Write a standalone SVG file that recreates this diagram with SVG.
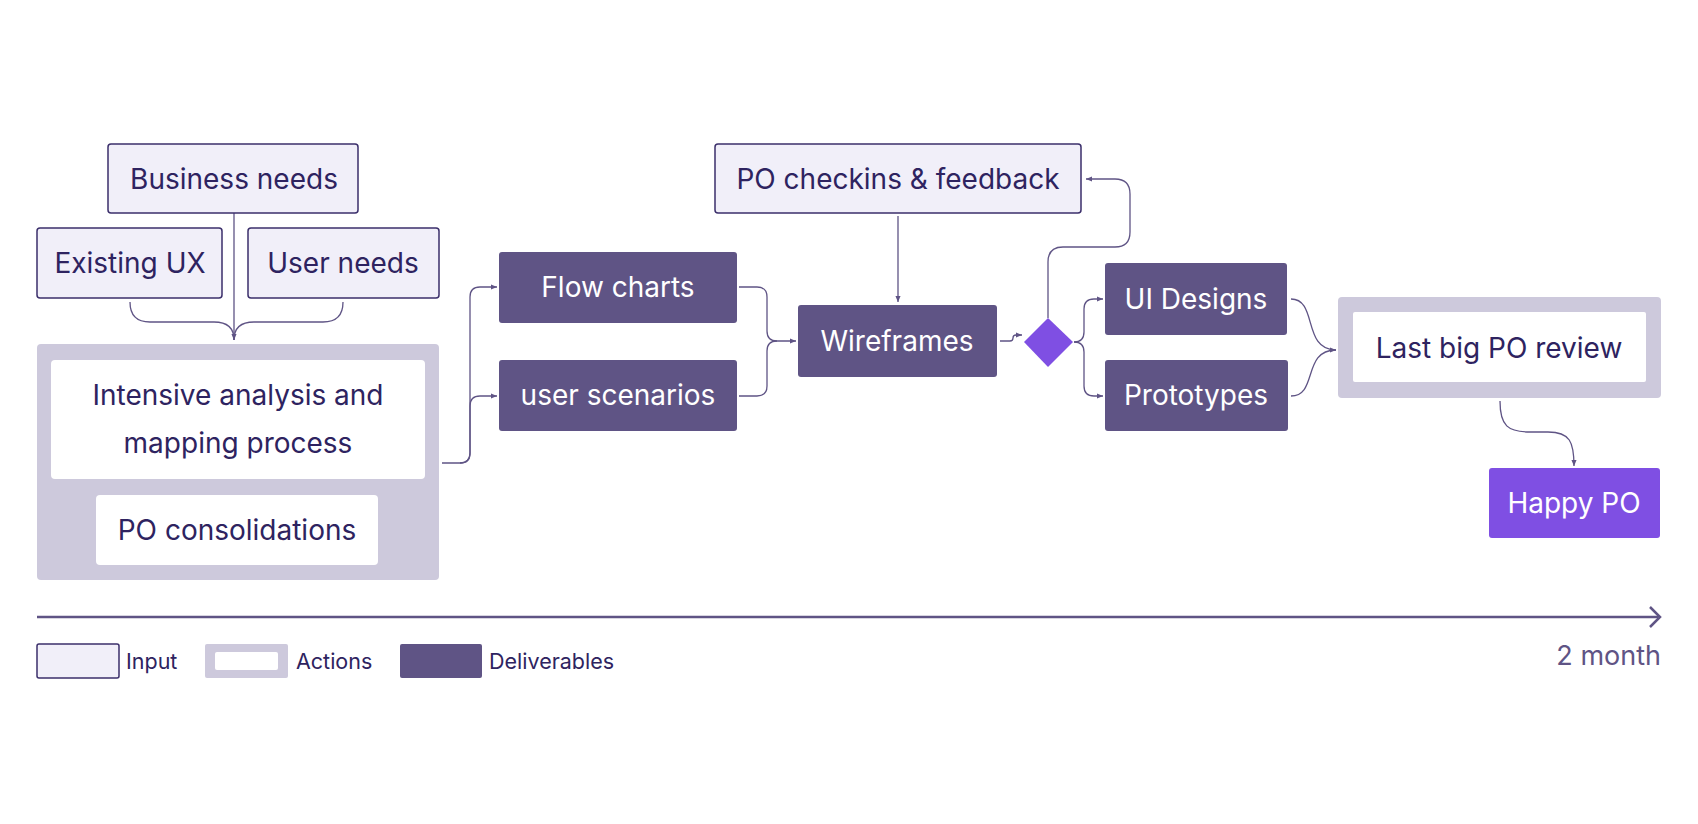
<svg xmlns="http://www.w3.org/2000/svg" width="1698" height="824" viewBox="0 0 1698 824">
<defs>
<style>
text{font-family:Inter,"Noto Sans",sans-serif;font-size:28px;text-anchor:middle;dominant-baseline:central}
.in{fill:#f1eff9;stroke:#3b2f6b;stroke-width:1.5}
.grp{fill:#cdc9dc}
.wh{fill:#fff}
.dl{fill:#5f5485}
.hp{fill:#7f4fe3}
.dk{fill:#2e2360}
.lt{fill:#fff}
.c{fill:none;stroke:#5f5485;stroke-width:1.3}
.leg{font-size:21.5px;text-anchor:start}
</style>
<marker id="a" viewBox="0 0 8 8" refX="7" refY="4" markerWidth="7" markerHeight="7" orient="auto" markerUnits="userSpaceOnUse"><path d="M0,1 L7,4 L0,7 z" fill="#5f5485"/></marker>
</defs>
<rect width="1698" height="824" fill="#fff"/>
<g id="connectors">
<path class="c" d="M234 213 L234 340" marker-end="url(#a)"/>
<path class="c" d="M130 302 Q130 322 150 322 L214 322 Q234 322 234 340"/>
<path class="c" d="M343 302 Q343 322 323 322 L254 322 Q234 322 234 340"/>
<path class="c" d="M442 463 L460 463 Q470 463 470 453 L470 297 Q470 287 480 287 L497 287" marker-end="url(#a)"/>
<path class="c" d="M460 463 Q470 463 470 453 L470 406 Q470 396 480 396 L497 396" marker-end="url(#a)"/>
<path class="c" d="M739 287 L757 287 Q767 287 767 297 L767 331 Q767 341 777 341 L796 341" marker-end="url(#a)"/>
<path class="c" d="M739 396 L757 396 Q767 396 767 386 L767 351 Q767 341 777 341"/>
<path class="c" d="M898 216 L898 302" marker-end="url(#a)"/>
<path class="c" d="M1000 341 L1010 341 Q1013 341 1013 338 Q1013 335 1016 335 L1022 335" marker-end="url(#a)"/>
<path class="c" d="M1048 318 L1048 262 Q1048 247 1063 247 L1115 247 Q1130 247 1130 232 L1130 194 Q1130 179 1115 179 L1086 179" marker-end="url(#a)"/>
<path class="c" d="M1074 342 Q1084 342 1084 332 L1084 309 Q1084 299 1094 299 L1103 299" marker-end="url(#a)"/>
<path class="c" d="M1074 342 Q1084 342 1084 352 L1084 386 Q1084 396 1094 396 L1103 396" marker-end="url(#a)"/>
<path class="c" d="M1291 299 C1318 299 1302 350 1336 350" marker-end="url(#a)"/>
<path class="c" d="M1291 396 C1318 396 1302 350 1336 350"/>
<path class="c" d="M1500 401 C1500 426 1508 432 1530 432 L1548 432 C1570 432 1574 442 1574 466" marker-end="url(#a)"/>
</g>
<g id="business"><rect class="in" x="108" y="144" width="250" height="69" rx="3"/><text class="dk" x="234" y="179">Business needs</text></g>
<g id="existing"><rect class="in" x="37" y="228" width="185" height="70" rx="3"/><text class="dk" x="130" y="263">Existing UX</text></g>
<g id="userneeds"><rect class="in" x="248" y="228" width="191" height="70" rx="3"/><text class="dk" x="343" y="263">User needs</text></g>
<g id="analysis">
<rect class="grp" x="37" y="344" width="402" height="236" rx="4"/>
<rect class="wh" x="51" y="360" width="374" height="119" rx="4"/>
<text class="dk" x="238" y="395">Intensive analysis and</text>
<text class="dk" x="238" y="443">mapping process</text>
<rect class="wh" x="96" y="495" width="282" height="70" rx="4"/>
<text class="dk" x="237" y="530">PO consolidations</text>
</g>
<g id="flow"><rect class="dl" x="499" y="252" width="238" height="71" rx="3"/><text class="lt" x="618" y="287">Flow charts</text></g>
<g id="scen"><rect class="dl" x="499" y="360" width="238" height="71" rx="3"/><text class="lt" x="618" y="395">user scenarios</text></g>
<g id="checkins"><rect class="in" x="715" y="144" width="366" height="69" rx="3"/><text class="dk" x="898" y="179">PO checkins &amp; feedback</text></g>
<g id="wire"><rect class="dl" x="798" y="305" width="199" height="72" rx="3"/><text class="lt" x="897" y="341">Wireframes</text></g>
<g id="decision"><path class="hp" d="M1048 318 L1073 342 L1048 367 L1024 342 Z"/></g>
<g id="ui"><rect class="dl" x="1105" y="263" width="182" height="72" rx="3"/><text class="lt" x="1196" y="299">UI Designs</text></g>
<g id="proto"><rect class="dl" x="1105" y="360" width="183" height="71" rx="3"/><text class="lt" x="1196" y="395">Prototypes</text></g>
<g id="review"><rect class="grp" x="1338" y="297" width="323" height="101" rx="4"/><rect class="wh" x="1353" y="312" width="293" height="70" rx="2"/><text class="dk" x="1499" y="348">Last big PO review</text></g>
<g id="happy"><rect class="hp" x="1489" y="468" width="171" height="70" rx="3"/><text class="lt" x="1574" y="503">Happy PO</text></g>
<g id="timeline">
<path d="M37 617 L1658 617" stroke="#5f5485" stroke-width="2.5" fill="none"/>
<path d="M1650 607 L1660 617 L1650 627" stroke="#5f5485" stroke-width="2.5" fill="none"/>
<text x="1661" y="655" style="text-anchor:end;font-size:27px;fill:#5f5485">2 month</text>
</g>
<g id="legend">
<rect class="in" x="37" y="644" width="82" height="34" rx="2"/><text class="leg dk" x="126" y="661">Input</text>
<rect class="grp" x="205" y="644" width="83" height="34" rx="2"/><rect class="wh" x="215" y="652" width="63" height="18" rx="2"/><text class="leg dk" x="296" y="661">Actions</text>
<rect class="dl" x="400" y="644" width="82" height="34" rx="2"/><text class="leg dk" x="489" y="661">Deliverables</text>
</g>
</svg>
